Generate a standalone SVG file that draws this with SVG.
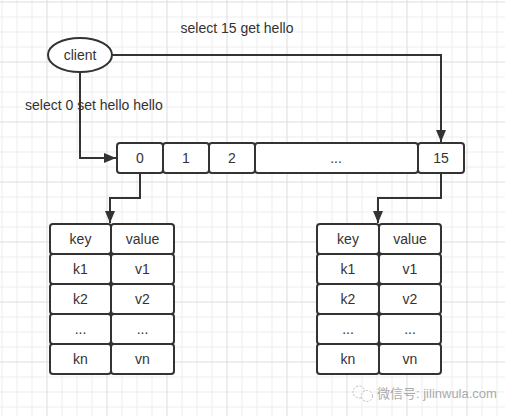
<svg xmlns="http://www.w3.org/2000/svg" width="505" height="416" viewBox="0 0 505 416">
<style>
.cell{fill:#fff;stroke:#333;stroke-width:2}
.t{font-family:"Liberation Sans","Noto Sans",Arial,sans-serif;font-size:14px;fill:#333;text-anchor:middle}
.lbl{font-family:"Liberation Sans","Noto Sans",Arial,sans-serif;font-size:14px;fill:#333}
.conn{fill:none;stroke:#333;stroke-width:2}
</style>
<defs>
<pattern id="grid" x="46.5" y="1.5" width="60" height="60" patternUnits="userSpaceOnUse">
<path d="M15.5 0V60M30.5 0V60M45.5 0V60M0 15.5H60M0 30.5H60M0 45.5H60" stroke="#ececec" stroke-width="1"/>
<path d="M0.5 0V60M0 0.5H60" stroke="#dcdcdc" stroke-width="1"/>
</pattern>
<marker id="arr" markerUnits="userSpaceOnUse" markerWidth="13" markerHeight="11" refX="12" refY="5" orient="auto">
<path d="M0 0L12 5L0 10Z" fill="#333"/>
</marker>
</defs>
<rect width="505" height="416" fill="#fff"/>
<rect width="505" height="416" fill="url(#grid)"/>

<g id="connectors">
<path class="conn" d="M112 55H441V142" marker-end="url(#arr)"/>
<path class="conn" d="M80 72V158H116" marker-end="url(#arr)"/>
<path class="conn" d="M140 173V198H110V223" marker-end="url(#arr)"/>
<path class="conn" d="M441 173V198H378V223" marker-end="url(#arr)"/>
</g>

<g id="labels">
<text class="t" x="237" y="33">select 15 get hello</text>
<text class="lbl" x="25" y="110">select 0 set hello hello</text>
</g>

<g id="client">
<ellipse cx="80" cy="55" rx="32" ry="17" class="cell"/>
<text class="t" x="80" y="60">client</text>
</g>

<g id="db-array">
<rect class="cell" x="117" y="143" width="46" height="30" rx="3"/>
<text class="t" x="140" y="163">0</text>
<rect class="cell" x="163" y="143" width="46" height="30" rx="3"/>
<text class="t" x="186" y="163">1</text>
<rect class="cell" x="209" y="143" width="46" height="30" rx="3"/>
<text class="t" x="232" y="163">2</text>
<rect class="cell" x="255" y="143" width="163" height="30" rx="3"/>
<text class="t" x="336" y="163">...</text>
<rect class="cell" x="418" y="143" width="46" height="30" rx="3"/>
<text class="t" x="441" y="163">15</text>
</g>

<g id="table-0">
<rect class="cell" x="50" y="224" width="61" height="30" rx="3"/>
<rect class="cell" x="111" y="224" width="63" height="30" rx="3"/>
<rect class="cell" x="50" y="254" width="61" height="30" rx="3"/>
<rect class="cell" x="111" y="254" width="63" height="30" rx="3"/>
<rect class="cell" x="50" y="284" width="61" height="30" rx="3"/>
<rect class="cell" x="111" y="284" width="63" height="30" rx="3"/>
<rect class="cell" x="50" y="314" width="61" height="30" rx="3"/>
<rect class="cell" x="111" y="314" width="63" height="30" rx="3"/>
<rect class="cell" x="50" y="344" width="61" height="30" rx="3"/>
<rect class="cell" x="111" y="344" width="63" height="30" rx="3"/>
<text class="t" x="80.5" y="244">key</text>
<text class="t" x="142.5" y="244">value</text>
<text class="t" x="80.5" y="274">k1</text>
<text class="t" x="142.5" y="274">v1</text>
<text class="t" x="80.5" y="304">k2</text>
<text class="t" x="142.5" y="304">v2</text>
<text class="t" x="80.5" y="334">...</text>
<text class="t" x="142.5" y="334">...</text>
<text class="t" x="80.5" y="364">kn</text>
<text class="t" x="142.5" y="364">vn</text>
</g>

<g id="table-15">
<rect class="cell" x="317" y="224" width="62" height="30" rx="3"/>
<rect class="cell" x="379" y="224" width="62" height="30" rx="3"/>
<rect class="cell" x="317" y="254" width="62" height="30" rx="3"/>
<rect class="cell" x="379" y="254" width="62" height="30" rx="3"/>
<rect class="cell" x="317" y="284" width="62" height="30" rx="3"/>
<rect class="cell" x="379" y="284" width="62" height="30" rx="3"/>
<rect class="cell" x="317" y="314" width="62" height="30" rx="3"/>
<rect class="cell" x="379" y="314" width="62" height="30" rx="3"/>
<rect class="cell" x="317" y="344" width="62" height="30" rx="3"/>
<rect class="cell" x="379" y="344" width="62" height="30" rx="3"/>
<text class="t" x="348" y="244">key</text>
<text class="t" x="410" y="244">value</text>
<text class="t" x="348" y="274">k1</text>
<text class="t" x="410" y="274">v1</text>
<text class="t" x="348" y="304">k2</text>
<text class="t" x="410" y="304">v2</text>
<text class="t" x="348" y="334">...</text>
<text class="t" x="410" y="334">...</text>
<text class="t" x="348" y="364">kn</text>
<text class="t" x="410" y="364">vn</text>
</g>

<g id="watermark">
<circle cx="359" cy="392" r="6" fill="none" stroke="#bbb" stroke-width="1" stroke-dasharray="2 1.5"/>
<circle cx="367" cy="396" r="5.5" fill="#fff" stroke="#bbb" stroke-width="1" stroke-dasharray="2 1.5"/>
<text x="377" y="398" font-family="'Liberation Sans','Noto Sans CJK SC',sans-serif" font-size="13" fill="#aaa">微信号: jilinwula.com</text>
</g>
</svg>
